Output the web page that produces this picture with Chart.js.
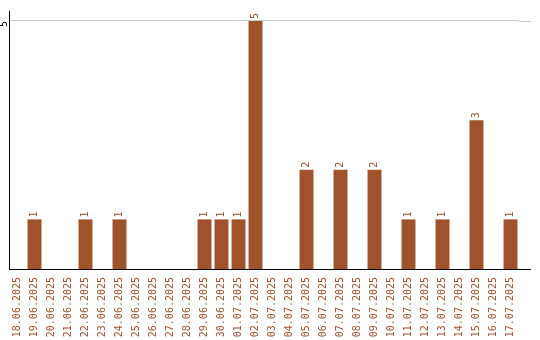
<!DOCTYPE html>
<html>
<head>
<meta charset="utf-8">
<script src="https://cdn.jsdelivr.net/npm/chart.js@4"></script>
<style>
    body { margin: 0; background: #fff; }
    canvas { display: block; }
</style>
</head>
<body>
<canvas id="day-chart" width="540" height="340"></canvas>
<script>
const days = [
    '18.06.2025', '19.06.2025', '20.06.2025', '21.06.2025', '22.06.2025',
    '23.06.2025', '24.06.2025', '25.06.2025', '26.06.2025', '27.06.2025',
    '28.06.2025', '29.06.2025', '30.06.2025', '01.07.2025', '02.07.2025',
    '03.07.2025', '04.07.2025', '05.07.2025', '06.07.2025', '07.07.2025',
    '08.07.2025', '09.07.2025', '10.07.2025', '11.07.2025', '12.07.2025',
    '13.07.2025', '14.07.2025', '15.07.2025', '16.07.2025', '17.07.2025'
];
const counts = [
    0, 1, 0, 0, 1,
    0, 1, 0, 0, 0,
    0, 1, 1, 1, 5,
    0, 0, 2, 0, 2,
    0, 2, 0, 1, 0,
    1, 0, 3, 0, 1
];
const yTicks = [5];

const barColor = '#a0522d';
const monoFont = { family: '"DejaVu Sans Mono", monospace', size: 10 };

// valeurs au-dessus des barres + prolongement des lignes horizontales
const extras = {
    id: 'extras',
    afterDraw(chart) {
        const ctx = chart.ctx;
        const area = chart.chartArea;
        const y = chart.scales.y;

        ctx.save();
        ctx.lineWidth = 1;
        ctx.strokeStyle = '#c8c8c8';
        const gy = Math.round(y.getPixelForValue(5)) + 0.5;
        ctx.beginPath();
        ctx.moveTo(area.right, gy);
        ctx.lineTo(531, gy);
        ctx.stroke();
        ctx.strokeStyle = '#000';
        const by = Math.round(area.bottom) + 0.5;
        ctx.beginPath();
        ctx.moveTo(area.right - 1, by);
        ctx.lineTo(531, by);
        ctx.stroke();

        ctx.fillStyle = '#93512f';
        ctx.font = '10px "DejaVu Sans Mono", monospace';
        ctx.textAlign = 'left';
        ctx.textBaseline = 'middle';
        chart.getDatasetMeta(0).data.forEach(function (bar, i) {
            if (!counts[i]) return;
            ctx.save();
            ctx.translate(bar.x, bar.y - 2);
            ctx.rotate(-Math.PI / 2);
            ctx.fillText(String(counts[i]), 0, 0);
            ctx.restore();
        });
        ctx.restore();
    }
};

new Chart(document.getElementById('day-chart'), {
    type: 'bar',
    data: {
        labels: days,
        datasets: [{
            data: counts,
            backgroundColor: barColor,
            categoryPercentage: 1,
            barPercentage: 0.82
        }]
    },
    options: {
        responsive: false,
        animation: false,
        layout: { padding: { top: 10, right: 21, bottom: 0, left: 0 } },
        plugins: {
            legend: { display: false },
            tooltip: { enabled: false }
        },
        scales: {
            x: {
                grid: { display: false, drawTicks: false },
                border: { color: '#000', width: 1 },
                ticks: {
                    color: barColor,
                    font: monoFont,
                    minRotation: 90,
                    maxRotation: 90,
                    autoSkip: false,
                    padding: 8
                },
                afterFit(scale) { scale.height = 71; }
            },
            y: {
                min: 0,
                max: 5.2,
                grid: { color: '#c8c8c8', drawTicks: false },
                border: { color: '#000', width: 1 },
                ticks: {
                    color: '#000',
                    font: monoFont,
                    minRotation: 90,
                    maxRotation: 90,
                    padding: 5
                },
                afterBuildTicks(scale) {
                    scale.ticks = yTicks.map(v => ({ value: v }));
                },
                afterFit(scale) { scale.width = 9; }
            }
        }
    },
    plugins: [extras]
});
</script>
</body>
</html>
